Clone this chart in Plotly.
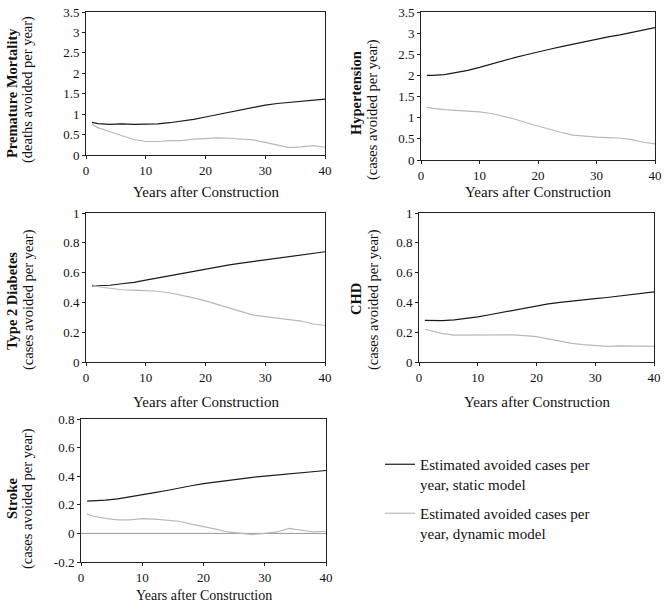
import plotly.graph_objects as go

years = [1, 2, 4, 6, 8, 10, 12, 14, 16, 18, 20, 22, 24, 26, 28, 30, 32, 34, 36, 38, 40]

mort_static = [0.80, 0.77, 0.75, 0.76, 0.75, 0.75, 0.76, 0.79, 0.83, 0.87, 0.93, 0.99, 1.05, 1.11, 1.17, 1.22, 1.26, 1.29, 1.32, 1.35, 1.37]
mort_dynamic = [0.75, 0.67, 0.57, 0.47, 0.38, 0.33, 0.33, 0.35, 0.35, 0.39, 0.40, 0.42, 0.41, 0.39, 0.37, 0.31, 0.25, 0.18, 0.20, 0.23, 0.19]

hyp_static = [2.00, 2.00, 2.02, 2.07, 2.12, 2.19, 2.27, 2.35, 2.42, 2.49, 2.56, 2.62, 2.68, 2.74, 2.80, 2.86, 2.91, 2.96, 3.02, 3.07, 3.13]
hyp_dynamic = [1.25, 1.22, 1.19, 1.17, 1.15, 1.14, 1.10, 1.03, 0.97, 0.88, 0.80, 0.72, 0.65, 0.59, 0.56, 0.54, 0.53, 0.52, 0.48, 0.42, 0.38]

diab_static = [0.51, 0.51, 0.515, 0.525, 0.535, 0.55, 0.565, 0.58, 0.595, 0.61, 0.625, 0.64, 0.652, 0.663, 0.674, 0.685, 0.695, 0.705, 0.715, 0.728, 0.74]
diab_dynamic = [0.52, 0.505, 0.495, 0.485, 0.483, 0.48, 0.475, 0.465, 0.45, 0.43, 0.41, 0.385, 0.36, 0.335, 0.315, 0.305, 0.295, 0.29, 0.275, 0.255, 0.245]

chd_static = [0.28, 0.278, 0.278, 0.283, 0.292, 0.303, 0.317, 0.332, 0.348, 0.363, 0.378, 0.39, 0.40, 0.41, 0.418, 0.425, 0.433, 0.441, 0.449, 0.459, 0.47]
chd_dynamic = [0.22, 0.21, 0.19, 0.18, 0.18, 0.183, 0.185, 0.185, 0.182, 0.177, 0.17, 0.155, 0.14, 0.125, 0.117, 0.11, 0.105, 0.108, 0.108, 0.103, 0.105]

stroke_static = [0.225, 0.226, 0.232, 0.242, 0.255, 0.27, 0.285, 0.30, 0.318, 0.333, 0.348, 0.36, 0.372, 0.382, 0.392, 0.40, 0.408, 0.416, 0.425, 0.433, 0.44]
stroke_dynamic = [0.135, 0.12, 0.105, 0.095, 0.095, 0.103, 0.10, 0.09, 0.085, 0.065, 0.05, 0.03, 0.01, 0.0, -0.008, 0.0, 0.01, 0.035, 0.025, 0.01, 0.015]

panel_titles = ["Premature Mortality", "Hypertension", "Type 2 Diabetes", "CHD", "Stroke"]
panel_units = ["(deaths avoided per year)", "(cases avoided per year)", "(cases avoided per year)",
               "(cases avoided per year)", "(cases avoided per year)"]
x_title = "Years after Construction"
legend_names = ["Estimated avoided cases per<br>year, static model",
                "Estimated avoided cases per<br>year, dynamic model"]

stroke_ticks = [-0.2, 0, 0.2, 0.4, 0.6, 0.8]
stroke_ticktext = ["-0.2", "0", "0.2", "0.4", "0.6", "0.8"]

W, H = 669, 604
FONT = "Liberation Serif"
TICK_SIZE = 13
TITLE_SIZE = 14.5

# plot areas in pixels: (left, right, top, bottom)
areas = [(86, 325, 12, 155), (421, 655, 12, 160), (86, 325, 213, 362),
         (419, 654, 213, 362), (81, 326, 419, 562)]
yranges = [[0, 3.5], [0, 3.5], [0, 1], [0, 1], [-0.2, 0.8]]
ydticks = [0.5, 0.5, 0.2, 0.2, 0.2]
series = [(mort_static, mort_dynamic), (hyp_static, hyp_dynamic), (diab_static, diab_dynamic),
          (chd_static, chd_dynamic), (stroke_static, stroke_dynamic)]
# title line positions (px): bold x, bold y center, unit x, unit y center
title_pos = [(12, 93, 28, 90), (356, 93, 373, 110), (12, 301, 28, 300),
             (356, 299, 373, 300), (12, 499, 28, 499)]
xtitle_y = [192, 192, 402, 402, None]

STATIC_C = "#1a1a1a"
DYN_C = "#b8b8b8"

fig = go.Figure()
annotations = []
shapes = []
for i in range(5):
    l, r, t, b = areas[i]
    xa = "xaxis" if i == 0 else f"xaxis{i+1}"
    ya = "yaxis" if i == 0 else f"yaxis{i+1}"
    xref = "x" if i == 0 else f"x{i+1}"
    yref = "y" if i == 0 else f"y{i+1}"
    st, dy = series[i]
    fig.add_trace(go.Scatter(x=years, y=st, mode="lines", xaxis=xref, yaxis=yref,
                             line=dict(color=STATIC_C, width=1.2),
                             name=legend_names[0], showlegend=(i == 0), legendgroup="s"))
    fig.add_trace(go.Scatter(x=years, y=dy, mode="lines", xaxis=xref, yaxis=yref,
                             line=dict(color=DYN_C, width=1.2),
                             name=legend_names[1], showlegend=(i == 0), legendgroup="d"))
    yaxis_cfg = dict(domain=[1 - b / H, 1 - t / H], range=yranges[i], dtick=ydticks[i],
                     anchor=xref, showgrid=False, zeroline=False, showline=True,
                     linecolor="#222", linewidth=1, mirror=True, ticks="outside",
                     ticklen=3, tickcolor="#222", automargin=False,
                     tickfont=dict(family=FONT, size=TICK_SIZE, color="#111"))
    if i == 4:
        yaxis_cfg.update(tickmode="array", tickvals=stroke_ticks, ticktext=stroke_ticktext)
        yaxis_cfg.pop("dtick")
    xaxis_cfg = dict(domain=[l / W, r / W], range=[0, 40], dtick=10, anchor=yref,
                     showgrid=False, zeroline=False, showline=True, linecolor="#222",
                     linewidth=1, mirror=True, ticks="outside", ticklen=3, tickcolor="#222",
                     automargin=False,
                     tickfont=dict(family=FONT, size=TICK_SIZE, color="#111"))
    fig.update_layout(**{xa: xaxis_cfg, ya: yaxis_cfg})

    bx, by, ux, uy = title_pos[i]
    annotations.append(dict(text="<b>" + panel_titles[i] + "</b>", xref="paper", yref="paper",
                            x=bx / W, y=1 - by / H, xanchor="center", yanchor="middle",
                            textangle=-90, showarrow=False,
                            font=dict(family=FONT, size=TITLE_SIZE, color="#111")))
    annotations.append(dict(text=panel_units[i], xref="paper", yref="paper",
                            x=ux / W, y=1 - uy / H, xanchor="center", yanchor="middle",
                            textangle=-90, showarrow=False,
                            font=dict(family=FONT, size=TITLE_SIZE, color="#111")))
    if xtitle_y[i] is not None:
        annotations.append(dict(text=x_title, xref="paper", yref="paper",
                                x=(l + r) / 2 / W, y=1 - xtitle_y[i] / H, xanchor="center",
                                yanchor="middle", showarrow=False,
                                font=dict(family=FONT, size=15, color="#111")))
    else:
        annotations.append(dict(text=x_title, xref="paper", yref="paper",
                                x=(l + r) / 2 / W, y=-1 / H, xanchor="center",
                                yanchor="bottom", showarrow=False,
                                font=dict(family=FONT, size=14, color="#111")))

# zero reference line in the stroke panel
shapes.append(dict(type="line", xref="x5 domain", yref="y5", x0=0, x1=1, y0=0, y1=0,
                   line=dict(color="#999", width=1), layer="below"))

fig.update_layout(
    width=W, height=H, margin=dict(l=0, r=0, t=0, b=0, pad=0, autoexpand=False),
    paper_bgcolor="white", plot_bgcolor="white",
    annotations=annotations, shapes=shapes,
    showlegend=True,
    legend=dict(x=380 / W, y=1 - 448 / H, xanchor="left", yanchor="top",
                font=dict(family=FONT, size=15, color="#111"),
                bgcolor="rgba(0,0,0,0)", valign="top", tracegroupgap=7,
                itemwidth=30),
)

fig.write_html("out.html")
